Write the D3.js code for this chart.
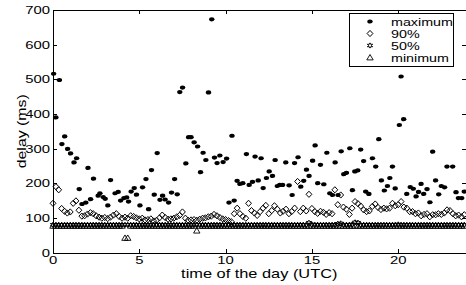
<!DOCTYPE html>
<html>
<head>
<meta charset="utf-8">
<script src="https://cdn.jsdelivr.net/npm/d3@7"></script>
<style>
  html, body { margin: 0; padding: 0; background: #fff; }
  svg { display: block; }
  text { font-family: "Liberation Sans", Arial, Helvetica, sans-serif; fill: #000; }
</style>
</head>
<body>
<div id="chart"></div>
<script>
// ten-minute slots through the day (hours, UTC)
const SLOTS = [
  0, 0.17, 0.33, 0.5, 0.67, 0.83,   1, 1.17, 1.33, 1.5, 1.67, 1.83,
  2, 2.17, 2.33, 2.5, 2.67, 2.83,   3, 3.17, 3.33, 3.5, 3.67, 3.83,
  4, 4.17, 4.33, 4.5, 4.67, 4.83,   5, 5.17, 5.33, 5.5, 5.67, 5.83,
  6, 6.17, 6.33, 6.5, 6.67, 6.83,   7, 7.17, 7.33, 7.5, 7.67, 7.83,
  8, 8.17, 8.33, 8.5, 8.67, 8.83,   9, 9.17, 9.33, 9.5, 9.67, 9.83,
  10, 10.17, 10.33, 10.5, 10.67, 10.83,   11, 11.17, 11.33, 11.5, 11.67, 11.83,
  12, 12.17, 12.33, 12.5, 12.67, 12.83,   13, 13.17, 13.33, 13.5, 13.67, 13.83,
  14, 14.17, 14.33, 14.5, 14.67, 14.83,   15, 15.17, 15.33, 15.5, 15.67, 15.83,
  16, 16.17, 16.33, 16.5, 16.67, 16.83,   17, 17.17, 17.33, 17.5, 17.67, 17.83,
  18, 18.17, 18.33, 18.5, 18.67, 18.83,   19, 19.17, 19.33, 19.5, 19.67, 19.83,
  20, 20.17, 20.33, 20.5, 20.67, 20.83,   21, 21.17, 21.33, 21.5, 21.67, 21.83,
  22, 22.17, 22.33, 22.5, 22.67, 22.83,   23, 23.17, 23.33, 23.5, 23.67, 23.83
];

// 90th percentile delay (ms), one per slot
const P90 = [
  142, 190, 181, 127, 119, 114,   117, 142, 149, 122, 105, 106,
  111, 115, 112, 106, 102, 99,    101, 98, 102, 108, 112, 104,
  99, 102, 99, 106, 104, 100,     97, 99, 94, 95, 97, 91,
  93, 100, 108, 101, 96, 97,      99, 103, 107, 117, 99, 93,
  94, 95, 93, 96, 99, 100,        103, 105, 110, 106, 101, 97,
  95, 92, 89, 112, 128, 112,      104, 99, 142, 121, 114, 107,
  118, 128, 136, 112, 121, 135,   125, 114, 119, 125, 112, 118,
  128, 205, 118, 128, 120, 168,   127, 118, 113, 119, 116, 110,
  115, 112, 181, 138, 166, 131,   125, 110, 128, 147, 141, 134,
  123, 118, 120, 133, 140, 130,   124, 128, 126, 128, 142, 135,
  138, 147, 131, 128, 118, 118,   112, 114, 106, 110, 112, 103,
  109, 109, 112, 110, 114, 123,   121, 112, 106, 108, 103, 109
];

// median delay (ms), one per slot
const P50 = [
  80, 80, 80, 80, 80, 80,   80, 80, 80, 80, 80, 80,
  80, 80, 80, 80, 80, 80,   80, 80, 80, 80, 80, 80,
  80, 80, 80, 80, 80, 80,   80, 80, 80, 80, 80, 80,
  80, 80, 80, 80, 80, 80,   80, 80, 80, 80, 80, 80,
  80, 80, 80, 80, 80, 80,   80, 80, 80, 80, 80, 80,
  80, 80, 80, 80, 80, 80,   80, 80, 80, 80, 80, 80,
  80, 80, 80, 80, 80, 80,   80, 80, 80, 80, 80, 80,
  80, 80, 80, 80, 80, 86,   81, 80, 80, 80, 80, 80,
  80, 80, 80, 83, 84, 80,   80, 80, 81, 87, 86, 80,
  80, 80, 80, 80, 80, 80,   80, 80, 80, 80, 80, 80,
  81, 80, 80, 80, 80, 80,   80, 80, 80, 80, 80, 80,
  80, 80, 80, 80, 80, 80,   80, 80, 80, 80, 80, 80
];

// minimum delay (ms), one per slot
const MINV = [
  77, 77, 77, 77, 77, 77,   77, 77, 77, 77, 77, 77,
  77, 77, 77, 77, 77, 77,   77, 77, 77, 77, 77, 77,
  77, 42, 42, 77, 77, 77,   77, 77, 77, 77, 77, 77,
  77, 77, 77, 77, 77, 77,   77, 77, 77, 77, 77, 77,
  77, 77, 63, 77, 77, 77,   77, 77, 77, 77, 77, 77,
  77, 77, 77, 77, 77, 77,   77, 77, 77, 77, 77, 77,
  77, 77, 77, 77, 77, 77,   77, 77, 77, 77, 77, 77,
  77, 77, 77, 77, 77, 77,   77, 77, 77, 77, 77, 77,
  77, 77, 77, 77, 77, 77,   77, 77, 77, 77, 77, 77,
  77, 77, 77, 77, 77, 77,   77, 77, 77, 77, 77, 77,
  77, 77, 77, 77, 77, 77,   77, 77, 77, 77, 77, 77,
  77, 77, 77, 77, 77, 77,   77, 77, 77, 77, 77, 77
];

// maximum delay: read point by point (hour, ms)
const MAX_T = [
  0.04, 0.17, 0.37, 0.52, 0.68, 0.85, 1.02, 1.22, 1.37, 1.52, 1.68, 1.9,
  2.03, 2.18, 2.35, 2.62, 2.72, 2.91, 3.03, 3.18, 3.34, 3.6, 3.78, 3.92,
  4.11, 4.27, 4.38, 4.53, 4.71, 4.84, 5.04, 5.19, 5.39, 5.54, 5.71, 5.87,
  6.04, 6.2, 6.35, 6.5, 6.7, 6.87, 7.05, 7.2, 7.35, 7.51, 7.7, 7.86,
  8.0, 8.18, 8.38, 8.55, 8.7, 8.86, 9.01, 9.2, 9.36, 9.51, 9.67, 9.86,
  10.06, 10.2, 10.37, 10.5, 10.67, 10.83, 11.0, 11.21, 11.37, 11.56, 11.71, 11.89,
  12.06, 12.18, 12.37, 12.53, 12.72, 12.87, 13.0, 13.14, 13.3, 13.49, 13.68, 13.86,
  14.0, 14.2, 14.36, 14.53, 14.69, 14.84, 15.04, 15.19, 15.34, 15.5, 15.69, 15.87,
  16.04, 16.2, 16.35, 16.52, 16.7, 16.85, 17.0, 17.2, 17.35, 17.49, 17.66, 17.83,
  18.0, 18.12, 18.3, 18.51, 18.7, 18.88, 19.03, 19.2, 19.38, 19.52, 19.67, 19.83,
  20.07, 20.17, 20.32, 20.5, 20.7, 20.88, 21.04, 21.18, 21.33, 21.48, 21.67, 21.84,
  22.0, 22.17, 22.35, 22.5, 22.69, 22.83, 23.16, 23.35, 23.49, 23.68, 23.83
];
const MAX_V = [
  516, 390, 498, 313, 335, 299, 286, 260, 272, 183, 140, 144,
  244, 154, 213, 164, 171, 160, 155, 136, 209, 171, 175, 150,
  157, 159, 147, 176, 186, 167, 136, 188, 212, 125, 238, 167,
  287, 152, 164, 153, 144, 173, 212, 168, 463, 476, 257, 333,
  333, 318, 306, 232, 288, 267, 462, 673, 274, 258, 280, 261,
  271, 144, 337, 150, 207, 198, 200, 284, 195, 204, 277, 208,
  272, 186, 215, 234, 221, 267, 192, 195, 195, 260, 194, 166,
  258, 275, 190, 207, 239, 221, 265, 309, 200, 253, 197, 288,
  171, 166, 260, 166, 292, 226, 230, 301, 180, 234, 237, 297,
  264, 176, 169, 272, 248, 327, 208, 179, 192, 215, 248, 185,
  368, 508, 385, 169, 189, 184, 162, 175, 198, 169, 183, 145,
  291, 208, 168, 192, 188, 248, 248, 174, 157, 157, 176
];

const X_TICKS = [0, 5, 10, 15, 20];
const Y_TICKS = [0, 100, 200, 300, 400, 500, 600, 700];
const LEGEND = ['maximum', '90%', '50%', 'minimum'];

(function () {
  'use strict';

  const W = 466, H = 285;
  const L = 53, R = 465.5, T = 10, B = 252.5;
  const SX = 1.35;  // the source figure is stretched horizontally

  const x = d3.scaleLinear().domain([0, 23.9]).range([L, R]);
  const y = d3.scaleLinear().domain([0, 700]).range([B, T]);

  const svg = d3.select('#chart').append('svg').attr('width', W).attr('height', H);

  // frame + inward ticks on all four sides
  const tk = 4;
  const axes = svg.append('g').attr('stroke', '#000').attr('stroke-width', 1).attr('shape-rendering', 'crispEdges');
  axes.append('g').attr('transform', `translate(0,${B})`)
    .call(d3.axisBottom(x).tickValues(X_TICKS).tickSizeInner(-tk).tickSizeOuter(0).tickFormat(''));
  axes.append('g').attr('transform', `translate(0,${T})`)
    .call(d3.axisTop(x).tickValues(X_TICKS).tickSizeInner(-tk).tickSizeOuter(0).tickFormat(''));
  axes.append('g').attr('transform', `translate(${L},0)`)
    .call(d3.axisLeft(y).tickValues(Y_TICKS).tickSizeInner(-tk).tickSizeOuter(0).tickFormat(''));
  axes.append('g').attr('transform', `translate(${R},0)`)
    .call(d3.axisRight(y).tickValues(Y_TICKS).tickSizeInner(-tk).tickSizeOuter(0).tickFormat(''));
  axes.selectAll('path.domain').attr('stroke', '#000');
  axes.selectAll('.tick line').attr('stroke', '#000');

  // tick labels, drawn by hand so they can be stretched like the source
  svg.append('g').selectAll('text').data(Y_TICKS).join('text')
    .attr('transform', d => `translate(${L - 3},${y(d) + 4}) scale(${SX},1)`)
    .attr('text-anchor', 'end').style('font-size', '11px').text(d => d);
  svg.append('g').selectAll('text').data(X_TICKS).join('text')
    .attr('transform', d => `translate(${x(d)},${B + 11.5}) scale(${SX},1)`)
    .attr('text-anchor', 'middle').style('font-size', '11px').text(d => d);

  svg.append('text')
    .attr('transform', `translate(${(L + R) / 2},${B + 25.5}) scale(1.26,1)`)
    .attr('text-anchor', 'middle').style('font-size', '13px').text('time of the day (UTC)');
  svg.append('text')
    .attr('transform', `translate(26,${(T + B) / 2}) rotate(-90) scale(1.22,1)`)
    .attr('text-anchor', 'middle').style('font-size', '13px').text('delay (ms)');

  // marker shapes
  const tri = (cx, cy) => `M${cx},${cy - 3}L${cx + 3.2},${cy + 2.4}L${cx - 3.2},${cy + 2.4}Z`;
  const dia = (cx, cy) => `M${cx},${cy - 3.1}L${cx + 2.9},${cy}L${cx},${cy + 3.1}L${cx - 2.9},${cy}Z`;
  const hex = (cx, cy) => {
    let p = '';
    for (let i = 0; i < 12; i++) {
      const a = -Math.PI / 2 + i * Math.PI / 6, r = i % 2 ? 1.3 : 2.6;
      p += (i ? 'L' : 'M') + (cx + r * Math.cos(a) * 1.15).toFixed(2) + ',' + (cy + r * Math.sin(a)).toFixed(2);
    }
    return p + 'Z';
  };

  const marks = svg.append('g');
  const idx = d3.range(SLOTS.length);

  marks.append('g').selectAll('path').data(idx).join('path')
    .attr('d', i => tri(x(SLOTS[i]), y(MINV[i])))
    .attr('fill', 'none').attr('stroke', '#000').attr('stroke-width', 0.9);

  marks.append('g').selectAll('path').data(idx).join('path')
    .attr('d', i => hex(x(SLOTS[i]), y(P50[i])))
    .attr('fill', 'none').attr('stroke', '#000').attr('stroke-width', 1);

  marks.append('g').selectAll('path').data(idx).join('path')
    .attr('d', i => dia(x(SLOTS[i]), y(P90[i])))
    .attr('fill', 'none').attr('stroke', '#000').attr('stroke-width', 1);

  marks.append('g').selectAll('ellipse').data(d3.range(MAX_T.length)).join('ellipse')
    .attr('cx', i => x(MAX_T[i])).attr('cy', i => y(MAX_V[i]))
    .attr('rx', 2.7).attr('ry', 2.1).attr('fill', '#000');

  // legend
  const lg = svg.append('g');
  lg.append('rect').attr('x', 349.5).attr('y', 13.5).attr('width', 104).attr('height', 52.5)
    .attr('fill', '#fff').attr('stroke', '#000').attr('stroke-width', 1).attr('shape-rendering', 'crispEdges');
  const ry = [21.5, 33.5, 45.5, 57.5];
  const sx = 370;
  lg.append('ellipse').attr('cx', sx).attr('cy', ry[0]).attr('rx', 2.7).attr('ry', 2.1).attr('fill', '#000');
  lg.append('path').attr('d', dia(sx, ry[1])).attr('fill', 'none').attr('stroke', '#000');
  lg.append('path').attr('d', hex(sx, ry[2])).attr('fill', 'none').attr('stroke', '#000').attr('stroke-width', 1);
  lg.append('path').attr('d', tri(sx, ry[3])).attr('fill', 'none').attr('stroke', '#000').attr('stroke-width', 0.9);
  lg.selectAll('text').data(LEGEND).join('text')
    .attr('transform', (d, i) => `translate(391,${ry[i] + 4}) scale(1.3,1)`)
    .style('font-size', '11px').text(d => d);
})();
</script>
</body>
</html>
